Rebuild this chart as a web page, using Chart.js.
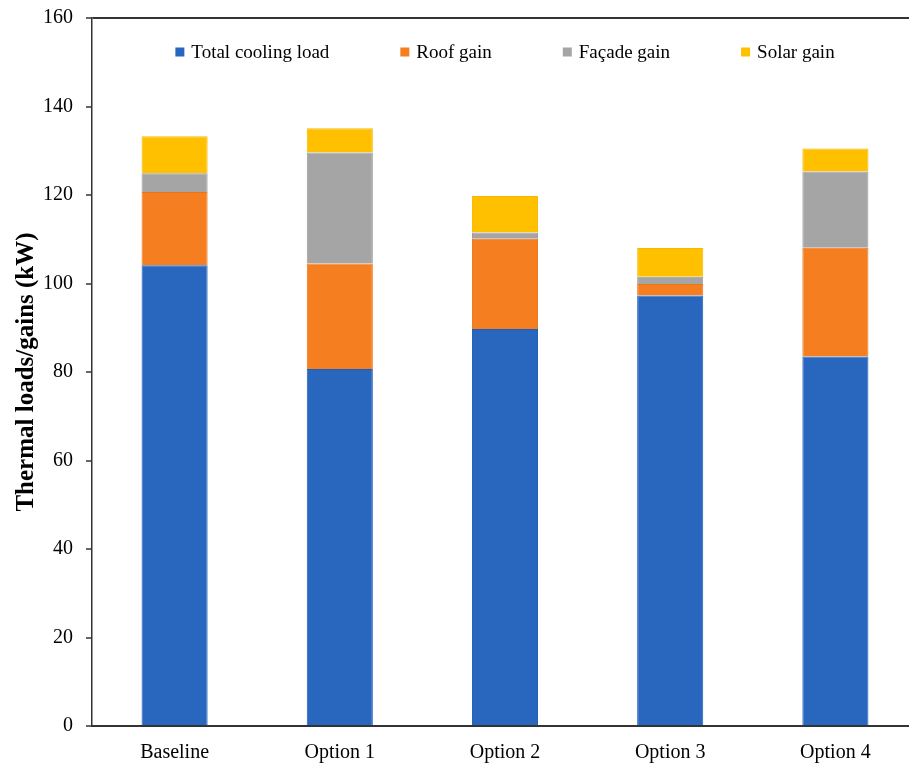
<!DOCTYPE html>
<html>
<head>
<meta charset="utf-8">
<script src="https://cdn.jsdelivr.net/npm/chart.js@4.4.1/dist/chart.umd.min.js"></script>
<style>
  html, body { margin: 0; padding: 0; background: #fff; overflow: hidden; }
  #wrap { width: 918px; height: 763px; }
</style>
</head>
<body>
<div id="wrap"><canvas id="canvas"></canvas></div>
<script>
let categories = ['Baseline', 'Option 1', 'Option 2', 'Option 3', 'Option 4'];

let coolingLoad = [104.1, 80.7, 89.7, 97.3, 83.5];
let roofGain = [16.6, 23.8, 20.4, 2.6, 24.6];
let facadeGain = [4.2, 25.1, 1.4, 1.6, 17.2];
let solarGain = [8.4, 5.5, 8.3, 6.5, 5.2];

let serif = '"Liberation Serif", "Times New Roman", serif';

// legend sits inside the plot, along the top
let innerLegend = {
    id: 'innerLegend',
    afterDraw: function(chart){
        let ctx = chart.ctx;
        let area = chart.chartArea;
        let sets = chart.data.datasets;
        let box = 9, textGap = 7, itemGap = 71;
        ctx.save();
        ctx.font = '19px ' + serif;
        ctx.textBaseline = 'middle';
        let widths = sets.map(function(s){ return ctx.measureText(s.label).width; });
        let total = 0;
        for(let i = 0;i<widths.length;i++){
            total += box + textGap + widths[i];
        }
        total += itemGap * (widths.length - 1);
        let x = (area.left + area.right) / 2 - total / 2;
        let y = 52;
        for(let i = 0;i<sets.length;i++){
            ctx.fillStyle = sets[i].backgroundColor;
            ctx.fillRect(x, y - box / 2, box, box);
            ctx.fillStyle = '#000';
            ctx.fillText(sets[i].label, x + box + textGap, y + 1);
            x += box + textGap + widths[i] + itemGap;
        }
        ctx.restore();
    }
};

let options = {
    type: 'bar',
    data: {
        labels: categories,
        datasets: [
            { label: 'Total cooling load', data: coolingLoad, backgroundColor: '#2967BE', borderColor: '#1F5CB8', borderWidth: 1 },
            { label: 'Roof gain', data: roofGain, backgroundColor: '#F57F20', borderColor: '#EC7418', borderWidth: 1 },
            { label: 'Façade gain', data: facadeGain, backgroundColor: '#A5A5A5', borderColor: '#9A9A9A', borderWidth: 1 },
            { label: 'Solar gain', data: solarGain, backgroundColor: '#FFC000', borderColor: '#F7B800', borderWidth: 1 }
        ]
    },
    options: {
        responsive: true,
        maintainAspectRatio: false,
        animation: false,
        layout: { padding: { top: 18, right: 0, left: 0, bottom: 0 } },
        plugins: {
            legend: { display: false },
            tooltip: { enabled: false }
        },
        datasets: {
            bar: { barPercentage: 0.4, categoryPercentage: 1 }
        },
        scales: {
            x: {
                stacked: true,
                grid: { display: false },
                border: { display: true, color: '#333', width: 2 },
                ticks: { color: '#000', font: { family: serif, size: 20 }, padding: 7, maxRotation: 0 },
                afterFit: function(scale){ scale.height = 37; }
            },
            y: {
                stacked: true,
                min: 0,
                max: 160,
                ticks: { stepSize: 20, color: '#000', font: { family: serif, size: 20, lineHeight: 0.5 }, padding: 13 },
                grid: {
                    color: function(c){ return c.tick && c.tick.value === 160 ? '#333' : 'rgba(0,0,0,0)'; },
                    lineWidth: 2,
                    tickColor: '#333',
                    tickLength: 6,
                    tickWidth: 1.5
                },
                border: { display: true, color: '#333', width: 1.5 },
                title: {
                    display: true,
                    text: 'Thermal loads/gains (kW)',
                    color: '#000',
                    font: { family: serif, size: 25, weight: 'bold' },
                    padding: { top: 12, bottom: 0 }
                },
                afterFit: function(scale){ scale.width = 92; }
            }
        }
    },
    plugins: [innerLegend]
};

let chart = new Chart(document.getElementById('canvas'), options);
</script>
</body>
</html>
